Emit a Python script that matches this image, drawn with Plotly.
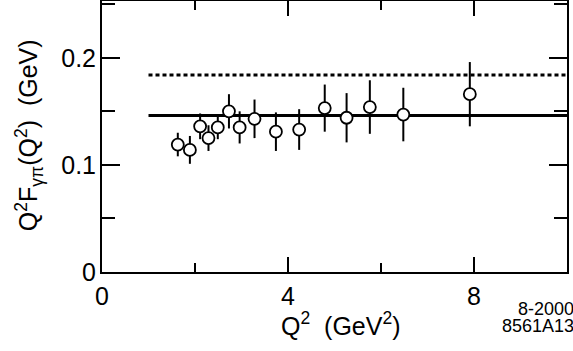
import plotly.graph_objects as go

# measured points, Q^2 (GeV^2) vs Q^2 F(Q^2) (GeV)
lstQ2 = [1.63, 1.89, 2.11, 2.29, 2.49, 2.73, 2.96, 3.28, 3.74, 4.24, 4.79, 5.26, 5.76, 6.48, 7.91]
lstF = [0.119, 0.114, 0.136, 0.125, 0.135, 0.150, 0.135, 0.143, 0.131, 0.133, 0.153, 0.144, 0.154, 0.147, 0.166]
lstErr = [0.011, 0.013, 0.012, 0.012, 0.011, 0.016, 0.015, 0.018, 0.018, 0.019, 0.022, 0.023, 0.025, 0.025, 0.030]

# asymptotic lines
lstLineX = [1, 10]
numSolid = 0.146
numDashed = 0.184

fontFamily = "Liberation Sans, Arial, sans-serif"

fig = go.Figure()
fig.add_trace(go.Scatter(x=lstLineX, y=[numDashed, numDashed], mode="lines",
                         line=dict(color="black", width=3, dash="4px,3px")))
fig.add_trace(go.Scatter(x=lstLineX, y=[numSolid, numSolid], mode="lines",
                         line=dict(color="black", width=3)))
fig.add_trace(go.Scatter(x=lstQ2, y=lstF, mode="markers",
                         error_y=dict(type="data", array=lstErr, color="black", thickness=2, width=0),
                         marker=dict(symbol="circle", size=12, color="white",
                                     line=dict(color="black", width=1.8))))

fig.update_layout(
    width=573, height=351,
    margin=dict(l=102, r=6, t=1, b=79, autoexpand=False),
    paper_bgcolor="white", plot_bgcolor="white",
    showlegend=False,
    font=dict(family=fontFamily, size=25, color="black"),
)
fig.update_xaxes(range=[0, 10], dtick=4, tick0=0, showgrid=False, zeroline=False, automargin=False,
                 showline=True, linewidth=2, linecolor="black", mirror="ticks",
                 ticks="inside", ticklen=15, tickwidth=2, tickcolor="black",
                 minor=dict(ticks="inside", dtick=2, ticklen=9, tickwidth=2, tickcolor="black", showgrid=False),
                 tickfont=dict(size=25), ticklabelstandoff=1)
fig.update_yaxes(range=[0, 0.253], dtick=0.1, tick0=0, showgrid=False, zeroline=False, automargin=False,
                 showline=True, linewidth=2, linecolor="black", mirror="ticks",
                 ticks="inside", ticklen=18, tickwidth=2, tickcolor="black",
                 minor=dict(ticks="inside", dtick=0.05, ticklen=13, tickwidth=2, tickcolor="black", showgrid=False),
                 tickfont=dict(size=25), ticklabelstandoff=-1)

# axis titles as annotations for exact placement
fig.add_annotation(text="Q<sup>2</sup>\u00a0\u00a0(GeV<sup>2</sup>)", xref="paper", yref="paper",
                   x=0.515, y=-0.125, xanchor="center", yanchor="top", showarrow=False,
                   font=dict(size=25))
fig.add_annotation(text="Q<sup>2</sup>F<sub>\u03b3\u03c0</sub>(Q<sup>2</sup>)\u00a0\u00a0(GeV)", xref="paper", yref="paper",
                   x=-0.157, y=0.505, xanchor="center", yanchor="middle", showarrow=False,
                   textangle=-90, font=dict(size=25))
# figure code in the corner, two tight lines
fig.add_annotation(text="8-2000", xref="paper", yref="paper", x=1.017, y=-0.105,
                   xanchor="right", yanchor="top", showarrow=False, font=dict(size=18),
                   height=16, borderpad=0)
fig.add_annotation(text="8561A13", xref="paper", yref="paper", x=1.017, y=-0.165,
                   xanchor="right", yanchor="top", showarrow=False, font=dict(size=18),
                   height=16, borderpad=0)

# page body has a default 8px margin; drop it so the figure sits at the window corner
fig.write_html("out.html", config={"displayModeBar": False},
               post_script="document.body.style.margin='0';")
